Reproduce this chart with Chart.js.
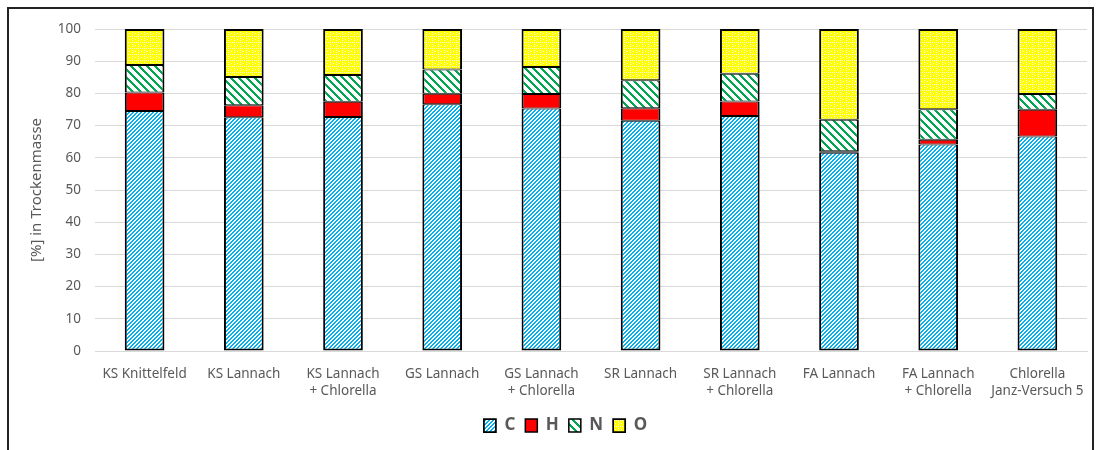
<!DOCTYPE html>
<html>
<head>
<meta charset="utf-8">
<script src="https://cdn.jsdelivr.net/npm/chart.js@4.4.0/dist/chart.umd.min.js"></script>
<style>
  html, body { margin: 0; padding: 0; background: #fff; }
  #wrap { position: relative; width: 1100px; height: 450px; overflow: hidden; }
  #rahmen {
    position: absolute; left: 7px; top: 7px; width: 1087px; height: 470px;
    border: 2px solid #222; box-sizing: border-box; pointer-events: none;
  }
  #chart { position: absolute; left: 0; top: 0; }
</style>
</head>
<body>
<div id="wrap">
  <canvas id="chart" width="1100" height="450"></canvas>
  <div id="rahmen"></div>
</div>
<script>
// Proben
const proben = [
    'KS Knittelfeld',
    'KS Lannach',
    ['KS Lannach', '+ Chlorella'],
    'GS Lannach',
    ['GS Lannach', '+ Chlorella'],
    'SR Lannach',
    ['SR Lannach', '+ Chlorella'],
    'FA Lannach',
    ['FA Lannach', '+ Chlorella'],
    ['Chlorella', 'Janz-Versuch 5']
];

// Elementanteile in % der Trockenmasse
const kohlenstoff = [74.5, 72.6, 72.7, 76.6, 75.3, 71.5, 73.0, 61.6, 64.1, 66.6];
const wasserstoff = [5.8, 3.7, 4.7, 3.3, 4.5, 3.9, 4.5, 0.4, 1.5, 8.3];
const stickstoff  = [8.5, 8.8, 8.3, 7.5, 8.4, 8.7, 8.6, 9.8, 9.5, 4.9];
const sauerstoff  = [11.2, 14.9, 14.3, 12.6, 11.8, 15.9, 13.9, 28.2, 24.9, 20.2];

const yTicks = [0, 10, 20, 30, 40, 50, 60, 70, 80, 90, 100];

// Schraffuren wie in Excel
function muster(size, zeichne) {
    const c = document.createElement('canvas');
    c.width = size;
    c.height = size;
    const g = c.getContext('2d');
    g.fillStyle = '#fff';
    g.fillRect(0, 0, size, size);
    zeichne(g);
    return document.createElement('canvas').getContext('2d').createPattern(c, 'repeat');
}

const musterC = muster(4, g => {
    g.fillStyle = '#00b0f0';
    for (let x = 0; x < 4; x++)
        for (let y = 0; y < 4; y++)
            if ((x + y) % 4 < 2) g.fillRect(x, y, 1, 1);
});

const musterN = muster(8, g => {
    g.fillStyle = '#00a650';
    for (let x = 0; x < 8; x++)
        for (let y = 0; y < 8; y++)
            if (((x - y) % 8 + 8) % 8 < 3) g.fillRect(x, y, 1, 1);
});

const musterO = muster(6, g => {
    g.fillStyle = '#ffff00';
    g.fillRect(0, 0, 6, 6);
    g.fillStyle = '#fff';
    [[0, 0], [2, 0], [4, 0], [0, 2], [0, 4], [3, 3]].forEach(([x, y]) => g.fillRect(x, y, 1, 1));
});

const grau = '#595959';
const schrift = "'Noto Sans', 'Open Sans', sans-serif";

// Innenkanten 1px, damit aneinanderstossende Segmente zusammen 2px ergeben
function serie(label, data, fill, unten, oben) {
    return {
        label: label,
        data: data,
        backgroundColor: fill,
        borderColor: '#000',
        borderWidth: { left: 2, right: 2, top: oben, bottom: unten },
        borderSkipped: false,
        barPercentage: 0.4,
        categoryPercentage: 1.0
    };
}

const ctx = document.getElementById('chart').getContext('2d');

// weisser Hintergrund
const hintergrund = {
    id: 'hintergrund',
    beforeDraw(chart) {
        const c = chart.ctx;
        c.save();
        c.fillStyle = '#fff';
        c.fillRect(0, 0, chart.width, chart.height);
        c.restore();
    }
};

// Legende etwas nach rechts ruecken
const legendeVersatz = {
    id: 'legendeVersatz',
    afterLayout(chart) {
        chart.legend.left += 22;
        chart.legend.right += 22;
    }
};

new Chart(ctx, {
    type: 'bar',
    data: {
        labels: proben,
        datasets: [
            serie('C', kohlenstoff, musterC, 2, 1),
            serie('H', wasserstoff, '#ff0000', 1, 1),
            serie('N', stickstoff, musterN, 1, 1),
            serie('O', sauerstoff, musterO, 1, 2)
        ]
    },
    options: {
        responsive: false,
        animation: false,
        layout: { padding: { top: 29, right: 13, bottom: 6, left: 0 } },
        plugins: {
            tooltip: { enabled: false },
            legend: {
                position: 'bottom',
                labels: {
                    boxWidth: 12,
                    boxHeight: 13,
                    padding: 10,
                    color: grau,
                    font: { family: schrift, size: 17, weight: 'bold' }
                }
            }
        },
        scales: {
            x: {
                stacked: true,
                grid: { display: false },
                border: { color: '#d9d9d9' },
                ticks: {
                    color: grau,
                    font: { family: schrift, size: 13.5, lineHeight: 1.3 },
                    maxRotation: 0,
                    autoSkip: false,
                    padding: 6
                },
                afterFit(scale) { scale.height = 56; }
            },
            y: {
                stacked: true,
                min: 0,
                max: 100,
                afterBuildTicks(scale) { scale.ticks = yTicks.map(v => ({ value: v })); },
                grid: { color: '#d9d9d9', drawTicks: false },
                border: { display: false },
                ticks: {
                    color: grau,
                    font: { family: schrift, size: 13.5 },
                    padding: 14
                },
                title: {
                    display: true,
                    text: '[%] in Trockenmasse',
                    color: grau,
                    font: { family: schrift, size: 15 },
                    padding: { top: 28, bottom: 0 }
                },
                afterFit(scale) { scale.width = 95; }
            }
        }
    },
    plugins: [hintergrund, legendeVersatz]
});
</script>
</body>
</html>
